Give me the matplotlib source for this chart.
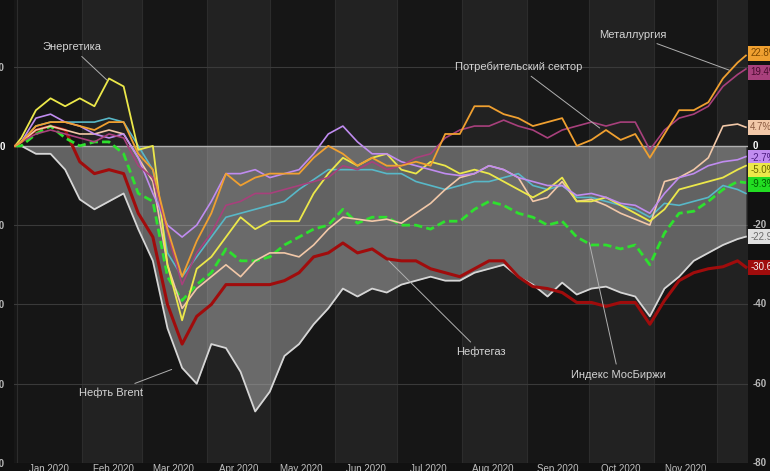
import matplotlib
matplotlib.use("Agg")
import matplotlib.pyplot as plt
import matplotlib.dates as mdates
import matplotlib.transforms as mtransforms
import pandas as pd

plt.rcParams['font.family'] = ['Liberation Sans', 'DejaVu Sans']
plt.rcParams['axes.unicode_minus'] = False

# weekly closes, % change since start of 2020
dates = ([pd.Timestamp('2019-12-31')]
         + list(pd.date_range('2020-01-03', '2020-12-11', freq='7D'))
         + [pd.Timestamp('2020-12-15')])

energy = [0, 2, 9, 12, 10, 12, 10, 17, 15, -1, 0,
          -30, -44, -31, -28, -23, -18, -21, -19, -19, -19,
          -12, -7, -3, -5, -3, -2, -6, -7, -4, -5,
          -7, -6, -7, -9, -11, -13, -11, -8, -14, -14,
          -13, -15, -17, -19, -16, -11, -10, -9, -8, -6, -5.0]
metals = [0, 1, 5, 6, 6, 5, 4, 6, 6, -2, -6,
          -21, -33, -24, -17, -7, -10, -8, -7, -7, -7,
          -3, 0, -2, -5, -3, -5, -5, -4, -5, 3,
          3, 10, 10, 8, 7, 5, 6, 7, 0, 1.5,
          4, 1.5, 3, -3, 3, 9, 9, 11, 17, 21, 22.8]
consumer = [0, 1, 3, 4, 3, 2, 1, 3, 2, -5, -8,
            -22, -35, -27, -22, -15, -14, -12, -12, -11, -10,
            -9, -8, -5, -6, -4, -6, -5, -3, -2, 2,
            4, 5, 5, 6.5, 5, 4, 2, 4, 5, 6,
            5, 6, 6, -1, 4, 7, 8, 10, 15, 18, 19.4]
peach = [0, 1, 4, 5, 4, 3, 3, 4, 3, -3, -9,
         -30, -41, -36, -33, -30, -33, -29, -27, -27, -28,
         -25, -21, -18, -18.5, -19, -18.5, -19.5, -17, -14.5, -11,
         -8, -7, -5, -6, -8, -14, -13, -9, -14, -13.5,
         -15, -17, -18.5, -20, -9, -8, -6, -3, 5, 5.5, 4.7]
violet = [0, 1, 7, 8, 6, 5, 3, 2, 3, -3, -12,
          -20, -23, -20, -14, -7, -7, -6, -8, -7, -6,
          -2, 3, 5, 1, -2, -2, -4, -5, -6, -7,
          -7.5, -7, -5, -6, -8, -9, -10, -10, -12.5, -12,
          -13, -14.5, -15, -17, -12, -8, -7, -5, -4, -3.5, -2.7]
cyan = [0, 1, 5, 6, 6, 6, 6, 7, 6, 0, -6,
        -27, -33, -28, -23, -18, -17, -16, -15, -14, -11,
        -8.5, -6, -6, -6, -6, -7, -7, -9, -10, -11,
        -10, -9, -9, -8, -7, -10, -11, -10, -13, -13,
        -14, -15, -16, -18, -14.5, -15, -14, -13, -10, -11, -12]
moex = [0, 0, 3, 5, 2, 0, 1, 1, -2, -12, -14,
        -33, -39, -35, -32, -26, -29, -29, -28, -25, -23,
        -21, -20, -16, -19.5, -18, -18, -20, -20, -21, -19,
        -19, -16, -14, -15, -17, -18, -20, -19, -23, -25,
        -25, -26, -25, -30, -22, -17, -16.5, -14, -11, -9, -9.3]
oilgas = [0, 1, 4, 5, 4, -4, -7, -6, -7, -17, -23,
          -40, -50, -43, -40, -35, -35, -35, -35, -34, -32,
          -28, -27, -24.5, -27, -26, -28.5, -29, -29, -31, -32,
          -33, -31, -29, -29, -33, -35.5, -36, -37, -39.5, -39.5,
          -40.5, -39.5, -39.5, -45, -39, -34, -32, -31, -30.5, -29, -30.6]
brent = [0, 0, -2, -2, -6, -13.5, -16, -14, -12, -21, -29,
         -46, -56, -60, -50, -51, -57, -67, -62, -53, -50,
         -45, -41, -36, -38, -36, -37, -35, -34, -33, -34,
         -34, -32, -31, -30, -33, -35, -38, -34.5, -37.5, -36,
         -35.5, -37, -38, -43, -36, -33, -29, -27, -25, -23.5, -22.9]

month_labels = ['Jan 2020', 'Feb 2020', 'Mar 2020', 'Apr 2020', 'May 2020', 'Jun 2020',
                'Jul 2020', 'Aug 2020', 'Sep 2020', 'Oct 2020', 'Nov 2020']
yticks = [20, 0, -20, -40, -60, -80]
right_ticks = [0, -20, -40, -60, -80]   # the 20 sits under the badges

fig = plt.figure(figsize=(7.7, 4.71), dpi=100, facecolor='#111111')
ax = fig.add_axes([14/770, 8/471, 734/770, 463/471])
ax.set_facecolor('#161616')

# alternating month bands
for m in range(1, 13):
    start = pd.Timestamp(2020, m, 1)
    end = start + pd.offsets.MonthBegin(1)
    if m % 2 == 0:
        ax.axvspan(start, end, color='#222222', lw=0, zorder=0)
    ax.axvline(start, color='#2c2c2c', lw=0.8, zorder=0.5)

for v in [20, -20, -40, -60, -80]:
    ax.axhline(v, color='#3a3a3a', lw=0.8, zorder=0.6)

bnum = pd.Series(brent)
ax.fill_between(dates, 0, brent, where=(bnum < 0).tolist(), interpolate=True,
                color='white', alpha=0.33, lw=0, zorder=1)
ax.axhline(0, color='#b0b0b0', lw=1.0, zorder=1.2)

ax.plot(dates, brent, color='#d6d6d6', lw=1.3, zorder=2)
ax.plot(dates, oilgas, color='#a00c0c', lw=2.2, zorder=2.1)
ax.plot(dates, moex, color='#2ee02e', lw=2.0, ls=(0, (3, 1.5)), zorder=2.2)
ax.plot(dates, cyan, color='#58b8c8', lw=1.2, zorder=2.3)
ax.plot(dates, peach, color='#f2c8a8', lw=1.2, zorder=2.4)
ax.plot(dates, energy, color='#ece84a', lw=1.3, zorder=2.5)
ax.plot(dates, violet, color='#c08cf0', lw=1.2, zorder=2.6)
ax.plot(dates, consumer, color='#a8407c', lw=1.2, zorder=2.7)
ax.plot(dates, metals, color='#f0a030', lw=1.3, zorder=2.8)

ax.set_xlim(pd.Timestamp('2019-12-30 12:00'), pd.Timestamp('2020-12-16'))
ax.set_ylim(-80, 36.8)

# axes styling
for s in ax.spines.values():
    s.set_visible(False)
ax.set_yticks(yticks)
ax.yaxis.set_major_formatter(plt.FuncFormatter(lambda v, p: f"{v:.0f}"))
ax.tick_params(axis='y', left=False, right=False, labelleft=True, labelright=False,
               pad=3, labelsize=7, labelcolor='#b8b8b8')
for lbl in ax.get_yticklabels():
    lbl.set_fontweight('bold')
    if lbl.get_text() == '0':
        lbl.set_color('white')

trans = mtransforms.blended_transform_factory(ax.transAxes, ax.transData)
for v in right_ticks:
    ax.text(1.006, v, f"{v}", transform=trans, ha='left', va='center', fontsize=7,
            fontweight='bold', color='white' if v == 0 else '#b8b8b8', clip_on=False)

ax.xaxis.set_major_locator(mdates.MonthLocator())
ax.xaxis.set_major_formatter(plt.NullFormatter())
ax.set_xticks([pd.Timestamp(2020, m, 16) for m in range(1, 12)], minor=True)
ax.set_xticklabels(month_labels, minor=True)
ax.tick_params(axis='x', which='both', length=0, pad=1, labelsize=7, labelcolor='#c0c0c0')

# end-value badges on the right
badge_vals = [metals[-1], consumer[-1], peach[-1], violet[-1], energy[-1], moex[-1], brent[-1], oilgas[-1]]
badge_shift = [0.6, -0.8, 0, -0.3, -1.1, -0.4, 0, 0]
badge_face = ['#f0a030', '#a8407c', '#f2c8a8', '#c08cf0', '#ece84a', '#22dd22', '#e0e0e0', '#a00c0c']
badge_text = ['#7a4600', '#4a0c30', '#8a5a40', '#4a1c80', '#6a6600', '#005c00', '#6a6a6a', '#f4f4f4']
for v, sh, fc, tc in zip(badge_vals, badge_shift, badge_face, badge_text):
    ax.text(1.003, v + sh, f"{v:.1f}%", transform=trans, ha='left', va='center',
            fontsize=7, color=tc, clip_on=False, zorder=10,
            bbox=dict(boxstyle='square,pad=0.25', fc=fc, ec='none'))

# callouts
lab = dict(color='#d4d4d4', fontsize=8, ha='center', va='center', zorder=11)
arr = dict(arrowstyle='-', color='#b0b0b0', lw=0.7, shrinkA=2, shrinkB=0)
ax.annotate('Энергетика', xy=(pd.Timestamp('2020-02-13'), 16.6),
            xytext=(pd.Timestamp('2020-01-27'), 25), arrowprops=arr, **lab)
ax.annotate('Металлургия', xy=(pd.Timestamp('2020-12-07'), 19.1),
            xytext=(pd.Timestamp('2020-10-22'), 28), arrowprops=arr, **lab)
ax.annotate('Потребительский сектор', xy=(pd.Timestamp('2020-10-06'), 4.5),
            xytext=(pd.Timestamp('2020-08-28'), 20), arrowprops=arr, **lab)
ax.annotate('Нефтегаз', xy=(pd.Timestamp('2020-06-27'), -29),
            xytext=(pd.Timestamp('2020-08-10'), -52), arrowprops=arr, **lab)
ax.annotate('Нефть Brent', xy=(pd.Timestamp('2020-03-15'), -56.4),
            xytext=(pd.Timestamp('2020-02-15'), -62.2), arrowprops=arr, **lab)
ax.annotate('Индекс МосБиржи', xy=(pd.Timestamp('2020-10-01'), -24.4),
            xytext=(pd.Timestamp('2020-10-15'), -57.7), arrowprops=arr, **lab)

fig.savefig('out.png', dpi=100, facecolor=fig.get_facecolor())
